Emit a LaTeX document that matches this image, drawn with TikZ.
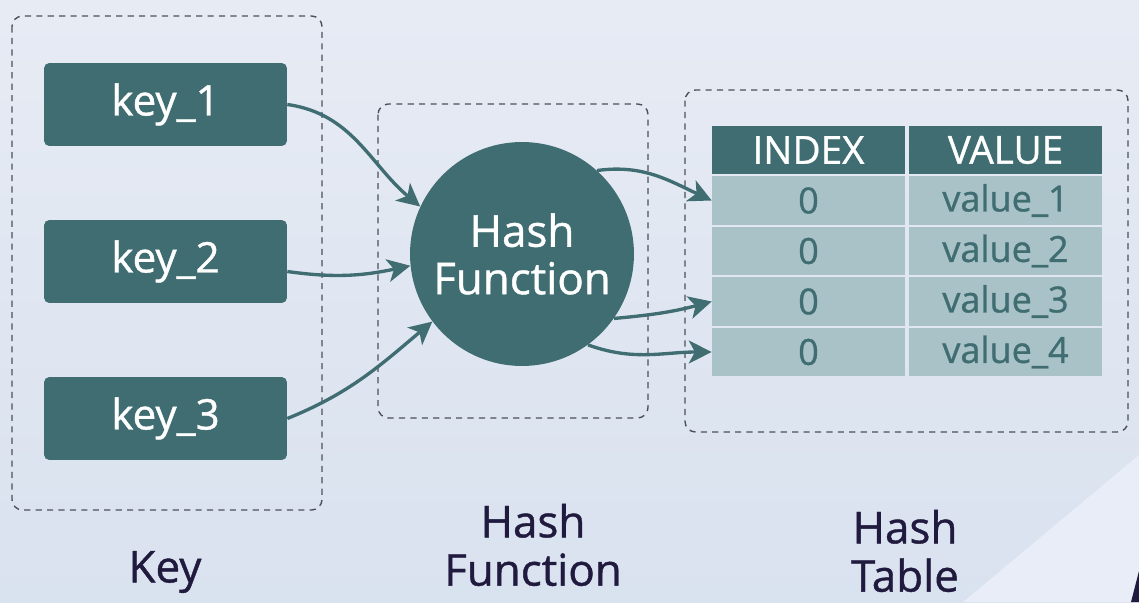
\documentclass[tikz,border=0pt]{standalone}
\usepackage{fontspec}
\setmainfont{Open Sans}[FakeBold=0.9]
\usetikzlibrary{arrows.meta}
\definecolor{hashteal}{HTML}{3F6D71}
\definecolor{rowteal}{HTML}{A9C2C7}
\definecolor{dashgray}{HTML}{4B505C}
\definecolor{labelnavy}{HTML}{201A3E}
\definecolor{bgtop}{HTML}{E7EBF4}
\definecolor{bgbottom}{HTML}{D9E2EF}
\definecolor{bgpale}{HTML}{E9EDF7}
\begin{document}
\begin{tikzpicture}[x=0.02cm,y=-0.02cm,
  keybox/.style={fill=hashteal,rounded corners=3pt,minimum width=4.86cm,minimum height=1.66cm,
    text=white,font=\fontsize{24}{28}\selectfont},
  group/.style={draw=dashgray,dash pattern=on 3.5pt off 3pt,line width=0.8pt,rounded corners=6pt},
  flow/.style={draw=hashteal,line width=1.9pt,-{Stealth[length=13pt,width=13pt,inset=3.5pt]}},
  headcell/.style={fill=hashteal,text=white,minimum width=3.86cm,minimum height=0.97cm,inner sep=0pt,
    font=\fontsize{22}{26}\selectfont},
  rowcell/.style={fill=rowteal,text=hashteal,minimum width=3.86cm,minimum height=0.97cm,inner sep=0pt,
    font=\fontsize{20.5}{24}\selectfont},
  caption/.style={text=labelnavy,align=center,font=\fontsize{25}{27.5}\selectfont}]
\useasboundingbox (0,0) rectangle (1139,602);
\fill[top color=bgtop,bottom color=bgbottom] (0,0) rectangle (1139,602);
\fill[bgpale] (963,602) -- (1139,455) -- (1139,602) -- cycle;
\fill[labelnavy] (1131,602) -- (1139,571) -- (1139,602) -- cycle;

\draw[group] (12,16) rectangle (322,510);
\draw[group] (378,104) rectangle (648,418);
\draw[group] (685,90) rectangle (1128,432);

\node[keybox] (key1) at (165.5,104.5) {key\_1};
\node[keybox] (key2) at (165.5,261.5) {key\_2};
\node[keybox] (key3) at (165.5,418.5) {key\_3};

\node[circle,fill=hashteal,minimum size=4.48cm,inner sep=0pt,text=white,align=center,
  font=\fontsize{25}{27}\selectfont] (hash) at (522,254) {Hash\\Function};

\node[headcell] (hi) at (808.5,150) {INDEX};
\node[headcell] (hv) at (1005.5,150) {VALUE};
\foreach \n/\y in {1/200.5,2/251,3/301.5,4/352} {
  \node[rowcell] (i\n) at (808.5,\y) {0};
  \node[rowcell] (v\n) at (1005.5,\y) {value\_\n};
}

\draw[flow] (key1.east) to[out=-8,in=140] (hash.155);
\draw[flow] ([yshift=-0.2cm]key2.east) to[out=-8,in=192] (hash.186);
\draw[flow] (key3.east) to[out=22,in=-140] (hash.217);
\draw[flow] (hash.48) to[out=8,in=155] (i1.west);
\draw[flow] (hash.-35) to[out=5,in=195] (i3.west);
\draw[flow] (hash.-54) to[out=-20,in=180] (i4.west);

\node[caption] (keylbl) at (165,572) {Key};
\node[caption] (hashlbl) at (533,545) {Hash\\Function};
\node[caption] (tablelbl) at (905,551) {Hash\\Table};
\end{tikzpicture}
\end{document}
